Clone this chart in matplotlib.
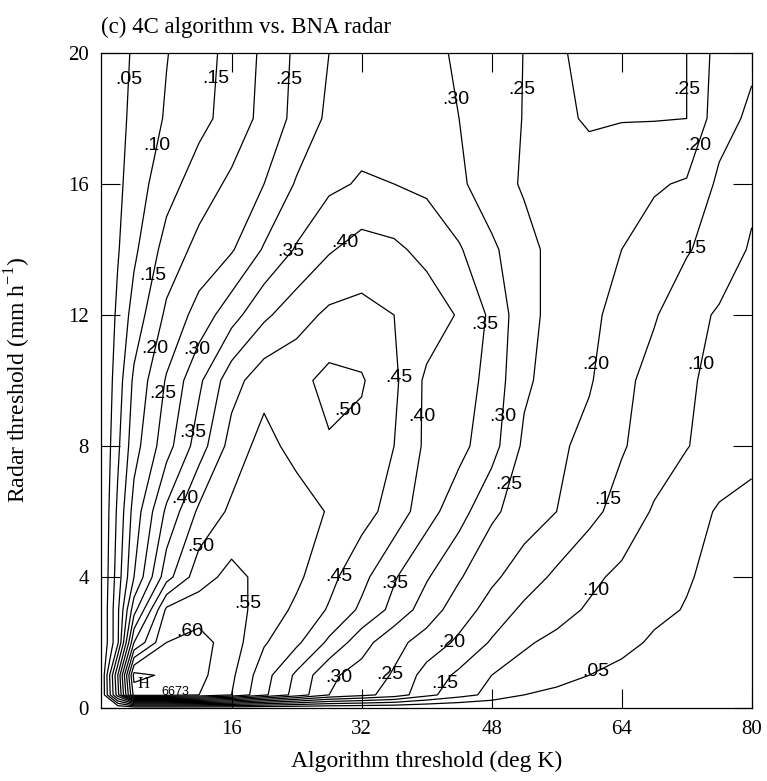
import numpy as np
import matplotlib
matplotlib.use("Agg")
import matplotlib.pyplot as plt

# ---------------- data ----------------
alg_thresh = [0, 2, 4, 8, 12, 16, 20, 24, 28, 32, 36, 40, 44, 48, 52, 56, 60, 64, 68, 72, 76, 80]
radar_thresh = [0, 0.4, 1, 2, 3, 4, 6, 8, 10, 12, 14, 16, 18, 20]

r00 = [0.0] * 22
r04 = [0, .28, .62, .62, .60, .55, .46, .38, .30, .265, .23, .165, .12, .085, .05, .04, .033, .028, .024, .02, .017, .015]
r01 = [0, .30, .6673, .64, .615, .56, .47, .39, .31, .28, .245, .18, .14, .10, .085, .065, .05, .04, .035, .03, .025, .02]
r02 = [0, .14, .45, .60, .62, .575, .505, .46, .39, .32, .265, .23, .19, .145, .105, .09, .075, .06, .045, .04, .032, .028]
r03 = [0, .14, .33, .56, .575, .57, .53, .49, .445, .39, .335, .275, .225, .18, .14, .115, .095, .075, .058, .048, .035, .03]
r04b = [0, .125, .25, .43, .53, .565, .535, .51, .465, .415, .355, .305, .255, .21, .175, .14, .11, .09, .07, .053, .04, .035]
r06 = [0, .11, .22, .36, .46, .51, .545, .53, .495, .47, .43, .37, .32, .26, .225, .20, .165, .13, .095, .07, .045, .04]
r08 = [0, .09, .18, .28, .375, .47, .52, .48, .495, .485, .45, .39, .365, .32, .24, .21, .185, .155, .125, .102, .08, .06]
r10 = [0, .075, .16, .255, .34, .43, .48, .485, .515, .505, .46, .39, .38, .33, .26, .225, .205, .165, .13, .105, .09, .08]
r12 = [0, .06, .12, .21, .27, .33, .39, .43, .46, .465, .45, .43, .395, .34, .265, .235, .21, .185, .155, .115, .095, .085]
r14 = [0, .046, .09, .17, .215, .245, .305, .355, .395, .42, .41, .385, .355, .31, .265, .235, .215, .20, .18, .155, .125, .095]
r16 = [0, .038, .075, .13, .175, .21, .25, .305, .34, .355, .35, .34, .31, .27, .245, .235, .23, .22, .205, .195, .14, .11]
r18 = [0, .033, .064, .105, .135, .17, .215, .265, .31, .33, .335, .32, .30, .275, .248, .24, .255, .252, .252, .25, .17, .14]
r20 = [0, .03, .057, .098, .13, .165, .21, .26, .30, .32, .325, .31, .295, .275, .249, .245, .26, .265, .265, .25, .18, .16]

levels = [0.05, 0.10, 0.15, 0.20, 0.25, 0.30, 0.35, 0.40, 0.45, 0.50, 0.55, 0.60, 0.65]

x_ticks = [16, 32, 48, 64, 80]
y_ticks = [0, 4, 8, 12, 16, 20]

title = "(c) 4C algorithm vs. BNA radar"
xlabel = "Algorithm threshold (deg K)"
ylabel = "Radar threshold (mm h$^{\\mathregular{-1}}$)"

# label anchor positions (where the reference prints the contour values)
label_xy = [
    (3.5, 19.2), (6.3, 17.2), (14.6, 19.2), (6.4, 13.2), (23.2, 19.2),
    (23.0, 14.0), (29.3, 14.4), (6.4, 11.0), (12.1, 10.9), (7.2, 9.6),
    (36.7, 10.1), (39.2, 18.4), (51.9, 18.9), (72.0, 18.9), (72.0, 17.3),
    (72.0, 14.1), (47.8, 11.7), (60.7, 10.5), (73.3, 10.5), (31.0, 8.9),
    (38.6, 8.9), (48.8, 8.9), (11.3, 8.4), (10.3, 6.4), (12.9, 4.8),
    (18.7, 3.2), (28.5, 4.1), (37.0, 3.7), (11.3, 2.1), (28.7, 1.0),
    (35.1, 1.07), (49.3, 6.9), (62.0, 6.4), (60.7, 3.6), (43.1, 2.0),
    (42.0, 0.8), (60.9, 1.07),
]

# ---------------- figure ----------------
serif = ["Liberation Serif", "DejaVu Serif"]
sans = ["Liberation Sans", "DejaVu Sans"]

W, H = 767, 781
fig = plt.figure(figsize=(W / 100, H / 100), dpi=100)
ax = fig.add_axes([101.5 / W, (H - 708) / H, 650.2 / W, 655 / H])

X, Y = np.meshgrid(alg_thresh, radar_thresh)
Z = np.array([r00, r04, r01, r02, r03, r04b, r06, r08, r10, r12, r14, r16, r18, r20])

cs = ax.contour(X, Y, Z, levels=levels, colors="black", linewidths=0.9)

def fmt(v):
    return ("%.2f" % v)[1:]

texts = ax.clabel(cs, manual=label_xy, inline=False, fmt=fmt, fontsize=14, colors="black")
for t in texts:
    t.set_rotation(0)
    t.set_fontfamily(sans)

# maximum marker
iy, ix = np.unravel_index(np.argmax(Z), Z.shape)
xm, ym, zm = alg_thresh[ix], radar_thresh[iy], Z[iy, ix]
ax.annotate("H", (xm, ym), xytext=(7, -6), textcoords="offset points",
            ha="center", va="center", fontsize=12, family=serif)
ax.annotate(("%.4f" % zm)[2:], (xm, ym), xytext=(30, -12), textcoords="offset points",
            ha="center", va="center", fontsize=9, family=sans)

ax.set_xlim(0, 80)
ax.set_ylim(0, 20)
ax.set_xticks(x_ticks)
ax.set_yticks(y_ticks)
ax.tick_params(direction="in", length=14, width=0.8, top=True, right=True,
               labelsize=15, pad=9)
for lab in ax.get_xticklabels() + ax.get_yticklabels():
    lab.set_fontfamily(serif)
for s in ax.spines.values():
    s.set_linewidth(0.9)

ax.set_xlabel(xlabel, fontsize=17, family=serif)
ax.set_ylabel(ylabel, fontsize=17, family=serif)
ax.xaxis.set_label_coords(0.5, -0.066)
ax.yaxis.set_label_coords(-0.105, 0.5)

fig.text(101.5 / W, 1 - 33 / H, title, fontsize=16.5, family=serif, ha="left", va="baseline")

fig.savefig("out.png", dpi=100)
